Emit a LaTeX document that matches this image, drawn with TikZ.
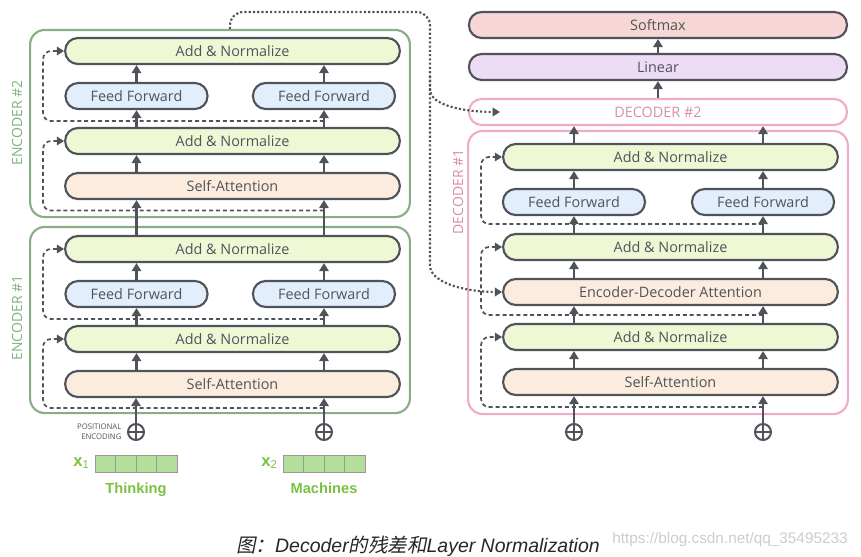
\documentclass[tikz,border=0pt]{standalone}
\usepackage{fontspec}
\setmainfont{Open Sans}
\newfontfamily\arialfont{Liberation Sans}
\newfontfamily\cjkfont[FakeSlant=0.2]{Noto Sans CJK SC}
\usetikzlibrary{positioning,arrows.meta}

\definecolor{boxline}{HTML}{50545A}
\definecolor{anfill}{HTML}{EEF8D4}
\definecolor{fffill}{HTML}{E2EEFB}
\definecolor{safill}{HTML}{FBECDE}
\definecolor{linfill}{HTML}{ECDCF6}
\definecolor{smfill}{HTML}{F7D7D5}
\definecolor{encgreen}{HTML}{88AE86}
\definecolor{enctext}{HTML}{7DB37D}
\definecolor{decpink}{HTML}{F2AAC8}
\definecolor{dectext}{HTML}{D88CAB}
\definecolor{wordgreen}{HTML}{7AC142}
\definecolor{cellfill}{HTML}{B3DE9B}

\tikzset{layer/.style = {draw=boxline, line width=1.6pt, rounded corners=9.5pt, minimum height=19.5pt, inner sep=0pt, text=boxline, font=\fontsize{10.8}{13}\selectfont}}

\begin{document}
\begin{tikzpicture}[x=0.75pt, y=-0.75pt, node distance=33.75pt]
  % Define node styles
  \tikzstyle{addnorm} = [layer, fill=anfill, minimum width=251pt]
  \tikzstyle{selfatt} = [layer, fill=safill, minimum width=251pt]
  \tikzstyle{ffwd} = [layer, fill=fffill, minimum width=106.5pt]
  \tikzstyle{headlayer} = [layer, minimum width=283.5pt]
  \tikzstyle{dectwo} = [layer, draw=decpink, text=dectext, minimum width=283.5pt]
  \tikzstyle{plus} = [circle, draw=boxline, line width=1.5pt, minimum size=12pt, inner sep=0pt,
    path picture={\draw[boxline, line width=1.5pt] (path picture bounding box.north) -- (path picture bounding box.south)
      (path picture bounding box.west) -- (path picture bounding box.east);}]
  \tikzstyle{cell} = [draw=gray!80, fill=cellfill, line width=0.6pt, minimum width=15.4pt, minimum height=12.75pt, inner sep=0pt]
  \tikzstyle{wordtxt} = [text=wordgreen, font=\arialfont\bfseries\fontsize{11}{13}\selectfont, inner sep=0pt]
  \tikzstyle{grouplbl} = [rotate=90, font=\fontsize{10.5}{12}\selectfont]
  \tikzstyle{arr} = [boxline, line width=1.6pt, -{Triangle[width=7pt,length=6pt]}]
  \tikzstyle{res} = [boxline, line width=1.3pt, dash pattern=on 3pt off 2.2pt, rounded corners=6pt, -{Triangle[width=6.5pt,length=5.5pt]}]
  \tikzstyle{memory} = [boxline, line width=1.6pt, dash pattern=on 1.6pt off 1.6pt, rounded corners=10pt, -{Triangle[width=6.5pt,length=5.5pt]}]

  \useasboundingbox (0,0) rectangle (861,557);

  % Encoder #1 (bottom left)
  \node[selfatt] (e1sa) at (232.5,384) {Self-Attention};
  \node[addnorm] (e1an1) [above of=e1sa] {Add \& Normalize};
  \node[ffwd] (e1ffl) [above of=e1an1, xshift=-72pt] {Feed Forward};
  \node[ffwd] (e1ffr) [above of=e1an1, xshift=68.6pt] {Feed Forward};
  \node[addnorm] (e1an2) [above of=e1an1, yshift=33.75pt] {Add \& Normalize};

  % Encoder #2 (top left)
  \node[selfatt] (e2sa) [above of=e1an2, yshift=13.5pt] {Self-Attention};
  \node[addnorm] (e2an1) [above of=e2sa] {Add \& Normalize};
  \node[ffwd] (e2ffl) [above of=e2an1, xshift=-72pt] {Feed Forward};
  \node[ffwd] (e2ffr) [above of=e2an1, xshift=68.6pt] {Feed Forward};
  \node[addnorm] (e2an2) [above of=e2an1, yshift=33.75pt] {Add \& Normalize};

  % Decoder #1 and the output layers (right)
  \node[selfatt] (dsa) at (670.5,382) {Self-Attention};
  \node[addnorm] (dan1) [above of=dsa] {Add \& Normalize};
  \node[selfatt] (deda) [above of=dan1] {Encoder-Decoder Attention};
  \node[addnorm] (dan2) [above of=deda] {Add \& Normalize};
  \node[ffwd] (dffl) [above of=dan2, xshift=-72.4pt] {Feed Forward};
  \node[ffwd] (dffr) [above of=dan2, xshift=69.4pt] {Feed Forward};
  \node[addnorm] (dan3) [above of=dan2, yshift=33.75pt] {Add \& Normalize};
  \node[dectwo] (d2) [above of=dan3, xshift=-9.4pt] {DECODER \#2};
  \node[headlayer, fill=linfill] (lin) [above of=d2] {Linear};
  \node[headlayer, fill=smfill] (soft) [above of=lin, yshift=-2.25pt] {Softmax};

  % Group boxes
  \draw[encgreen, line width=1.6pt, rounded corners=11pt] ([xshift=-25.5pt,yshift=6pt]e1an2.north west) rectangle ([xshift=6.75pt,yshift=-11.25pt]e1sa.south east);
  \draw[encgreen, line width=1.6pt, rounded corners=11pt] ([xshift=-25.5pt,yshift=5.25pt]e2an2.north west) rectangle ([xshift=6.75pt,yshift=-12.75pt]e2sa.south east);
  \draw[decpink, line width=1.6pt, rounded corners=11pt] ([xshift=-25.5pt,yshift=9pt]dan3.north west) rectangle ([xshift=6.75pt,yshift=-13.5pt]dsa.south east);

  \node[grouplbl, enctext] (e2lbl) at (17,123) {ENCODER \#2};
  \node[grouplbl, enctext] (e1lbl) at (17,318) {ENCODER \#1};
  \node[grouplbl, dectext] (d1lbl) at (458,192) {DECODER \#1};

  % Positional encoding inputs
  \node[plus] (pel) at (136,432) {};
  \node[plus] (per) at (324,432) {};
  \node[plus] (pdl) at (574,432) {};
  \node[plus] (pdr) at (763,432) {};
  \node[boxline, left=4pt of pel, align=right, inner sep=0pt, font=\fontsize{5.8}{7.5}\selectfont] (posenc) {POSITIONAL\\ENCODING};

  % Columns of arrows
  \foreach \c in {l,r} {
    \draw[arr] (pe\c.north) -- (e1sa.south -| pe\c);
    \draw[arr] (e1sa.north -| e1ff\c) -- (e1an1.south -| e1ff\c);
    \draw[arr] (e1an1.north -| e1ff\c) -- (e1ff\c.south);
    \draw[arr] (e1ff\c.north) -- (e1an2.south -| e1ff\c);
    \draw[arr] (e1an2.north -| e1ff\c) -- (e2sa.south -| e2ff\c);
    \draw[arr] (e2sa.north -| e2ff\c) -- (e2an1.south -| e2ff\c);
    \draw[arr] (e2an1.north -| e2ff\c) -- (e2ff\c.south);
    \draw[arr] (e2ff\c.north) -- (e2an2.south -| e2ff\c);
    \draw[arr] (pd\c.north) -- (dsa.south -| pd\c);
    \draw[arr] (dsa.north -| dff\c) -- (dan1.south -| dff\c);
    \draw[arr] (dan1.north -| dff\c) -- (deda.south -| dff\c);
    \draw[arr] (deda.north -| dff\c) -- (dan2.south -| dff\c);
    \draw[arr] (dan2.north -| dff\c) -- (dff\c.south);
    \draw[arr] (dff\c.north) -- (dan3.south -| dff\c);
    \draw[arr] (dan3.north -| dff\c) -- (d2.south -| dff\c);
  }
  \draw[arr] (d2.north) -- (lin.south);
  \draw[arr] (lin.north) -- (soft.south);

  % Residual connections
  \draw[res] (e1sa.south -| e1ffr) ++(0,-7.5pt) -| ([xshift=-15.75pt]e1an1.west) -- (e1an1.west);
  \draw[res] (e1ffr.south) ++(0,-8.25pt) -| ([xshift=-15.75pt]e1an2.west) -- (e1an2.west);
  \draw[res] (e2sa.south -| e2ffr) ++(0,-7.9pt) -| ([xshift=-15.75pt]e2an1.west) -- (e2an1.west);
  \draw[res] (e2ffr.south) ++(0,-8.25pt) -| ([xshift=-15.75pt]e2an2.west) -- (e2an2.west);
  \draw[res] (dsa.south -| dffr) ++(0,-8.25pt) -| ([xshift=-15.75pt]dan1.west) -- (dan1.west);
  \draw[res] (dan1.north -| dffr) ++(0,6pt) -| ([xshift=-15.75pt]dan2.west) -- (dan2.west);
  \draw[res] (dffr.south) ++(0,-6pt) -| ([xshift=-15.75pt]dan3.west) -- (dan3.west);

  % Encoder output to the decoders
  \coordinate (tap) at (230,29);
  \coordinate (turn) at (430,12);
  \coordinate (split) at (430,76);
  \coordinate (down) at (430,252);
  \draw[memory] (tap) |- (turn) -- (split) to[out=-90,in=180] ([xshift=24pt]d2.west);
  \draw[memory] (split) -- (down) to[out=-90,in=180] (deda.west);

  % Input words
  \foreach \i in {0,...,3} {
    \node[cell] (xa\i) at (105.25+20.5*\i,463.5) {};
    \node[cell] (xb\i) at (293.25+20.5*\i,463.5) {};
  }
  \node[wordtxt, left=4pt of xa0] (xalbl) {{\fontsize{12.5}{14}\selectfont x}{\mdseries\fontsize{8.5}{10}\selectfont\raisebox{-1.5pt}{1}}};
  \node[wordtxt, left=4pt of xb0] (xblbl) {{\fontsize{12.5}{14}\selectfont x}{\mdseries\fontsize{8.5}{10}\selectfont\raisebox{-1.5pt}{2}}};
  \node[wordtxt, anchor=base] (think) at (136,493) {Thinking};
  \node[wordtxt, anchor=base] (mach) at (324,493) {Machines};

  % Caption
  \node[text=black!85, font=\fontsize{14.6}{16}\selectfont] (cap) at (418,546) {{\cjkfont 图：}{\arialfont\itshape Decoder}{\cjkfont 的残差和}{\arialfont\itshape Layer Normalization}};
  \node[text=black!20, font=\arialfont\fontsize{11.5}{13}\selectfont] (wm) at (730,540) {https://blog.csdn.net/qq\_35495233};
\end{tikzpicture}
\end{document}
